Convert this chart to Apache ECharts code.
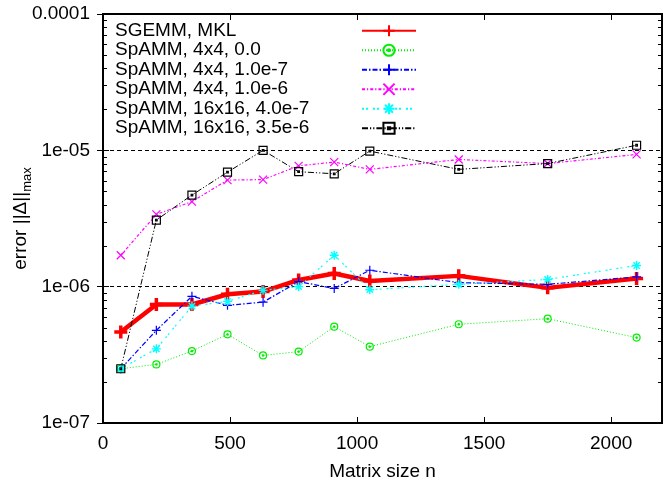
<!DOCTYPE html>
<html>
<head>
<meta charset="utf-8">
<script src="https://cdn.jsdelivr.net/npm/echarts@6/dist/echarts.min.js"></script>
<style>html,body{margin:0;padding:0;background:#fff}#c{width:672px;height:483px}</style>
</head>
<body>
<div id="c"></div>
<script>
var sizes = [70, 210, 350, 490, 630, 770, 910, 1050, 1400, 1750, 2100];
var sgemmMKL   = [4.65e-7, 7.4e-7, 7.4e-7, 8.8e-7, 9.2e-7, 1.12e-6, 1.25e-6, 1.1e-6, 1.2e-6, 0.98e-6, 1.15e-6];
var spamm4_0   = [2.5e-7, 2.69e-7, 3.37e-7, 4.47e-7, 3.13e-7, 3.34e-7, 5.09e-7, 3.63e-7, 5.3e-7, 5.82e-7, 4.23e-7];
var spamm4_1e7 = [2.5e-7, 4.78e-7, 8.5e-7, 7.3e-7, 7.7e-7, 1.09e-6, 0.97e-6, 1.32e-6, 1.07e-6, 1.04e-6, 1.18e-6];
var spamm4_1e6 = [1.7e-6, 3.39e-6, 4.2e-6, 6.05e-6, 6.1e-6, 7.7e-6, 8.2e-6, 7.25e-6, 8.57e-6, 8.0e-6, 9.33e-6];
var spamm16_4e7 = [2.5e-7, 3.5e-7, 7.2e-7, 7.8e-7, 9.4e-7, 1.0e-6, 1.7e-6, 0.95e-6, 1.04e-6, 1.13e-6, 1.43e-6];
var spamm16_35e6 = [2.5e-7, 3.08e-6, 4.7e-6, 6.92e-6, 1.0e-5, 6.97e-6, 6.73e-6, 9.87e-6, 7.25e-6, 8.0e-6, 1.09e-5];
var seriesNames = ['SGEMM, MKL', 'SpAMM, 4x4, 0.0', 'SpAMM, 4x4, 1.0e-7', 'SpAMM, 4x4, 1.0e-6', 'SpAMM, 16x16, 4.0e-7', 'SpAMM, 16x16, 3.5e-6'];
var yTickValues = [1e-7, 1e-6, 1e-5, 1e-4];
var yTickLabels = ['1e-07', '1e-06', '1e-05', '0.0001'];
var xTickLabels = ['0', '500', '1000', '1500', '2000'];

function pairs(vals) { return sizes.map(function (x, i) { return [x, vals[i]]; }); }

var FONT = '"Liberation Sans", Arial, sans-serif';
var SYM = {
  plus: 'path://M0,5L10,5M5,0L5,10',
  cross: 'path://M0,0L10,10M10,0L0,10',
  star: 'path://M0,5L10,5M5,0L5,10M1.5,1.5L8.5,8.5M8.5,1.5L1.5,8.5',
  sqdot: 'path://M0,0L10,0L10,10L0,10ZM4,4L6,4L6,6L4,6Z',
  cdot: 'path://M0,5A5,5,0,1,1,10,5A5,5,0,1,1,0,5ZM4,5A1,1,0,1,1,6,5A1,1,0,1,1,4,5Z'
};

function mk(name, vals, color, width, dash, sym, size, bw) {
  return {
    name: name, type: 'line', data: pairs(vals),
    symbol: sym, symbolSize: size, showSymbol: true,
    lineStyle: { color: color, width: width, type: dash },
    itemStyle: { color: 'none', borderColor: color, borderWidth: bw },
    emphasis: { disabled: true },
    animation: false
  };
}

var series = [
  mk(seriesNames[0], sgemmMKL, '#ff0000', 4.5, 'solid', SYM.plus, 13, 3.5),
  mk(seriesNames[1], spamm4_0, '#00ee00', 1, [1, 2], SYM.cdot, 7, 1.2),
  mk(seriesNames[2], spamm4_1e7, '#0000ff', 1.2, [5, 2, 1.5, 2], SYM.plus, 9, 1.2),
  mk(seriesNames[3], spamm4_1e6, '#ff00ff', 1.2, [3, 2, 1.2, 2], SYM.cross, 8, 1.2),
  mk(seriesNames[4], spamm16_4e7, '#00ffff', 1.2, [2, 2, 2, 5], SYM.star, 9, 1.4),
  mk(seriesNames[5], spamm16_35e6, '#000000', 1, [6, 2, 1.2, 2, 1.2, 2], SYM.sqdot, 8, 1.2)
];

var chart = echarts.init(document.getElementById('c'), null, { renderer: 'canvas' });
var axisTickIn = { show: true, inside: true, length: 6, lineStyle: { color: '#000', width: 1 } };
chart.setOption({
  animation: false,
  backgroundColor: '#fff',
  grid: { left: 103, top: 14, right: 10, bottom: 60, show: true, borderColor: '#000', borderWidth: 2, containLabel: false, outerBoundsMode: 'none' },
  legend: {
    orient: 'vertical', left: 110, top: 16, align: 'right',
    itemWidth: 54, itemHeight: 14, itemGap: 0,
    padding: 5,
    selectedMode: false,
    formatter: function (n) { return '{t|' + n + '}'; },
    textStyle: {
      fontFamily: FONT, fontSize: 19, color: '#000', lineHeight: 19.5,
      rich: { t: { fontFamily: FONT, fontSize: 19, color: '#000', width: 242, align: 'left', lineHeight: 19.5 } }
    },
    data: seriesNames
  },
  xAxis: [{
    type: 'value', min: 0, max: 2200, interval: 500,
    name: 'Matrix size n', nameLocation: 'middle', nameGap: 39, nameMoveOverlap: false,
    nameTextStyle: { fontFamily: FONT, fontSize: 19, color: '#000' },
    axisLine: { show: true, lineStyle: { color: '#000', width: 2 } },
    axisTick: axisTickIn,
    splitLine: { show: false },
    axisLabel: {
      fontFamily: FONT, fontSize: 19, color: '#000', margin: 11, showMaxLabel: false,
      formatter: function (v) { var i = v / 500; return (Math.round(i) === i && xTickLabels[i] !== undefined) ? xTickLabels[i] : ''; }
    }
  }, {
    type: 'value', min: 0, max: 2200, interval: 500, position: 'top',
    axisLine: { show: true, lineStyle: { color: '#000', width: 2 } },
    axisTick: axisTickIn, axisLabel: { show: false }, splitLine: { show: false }
  }],
  yAxis: [{
    type: 'log', logBase: 10, min: 1e-7, max: 1e-4,
    name: '{a|error ||Δ||}{b|max}', nameLocation: 'middle', nameGap: 70, nameMoveOverlap: false,
    nameTextStyle: {
      fontFamily: FONT, fontSize: 19, color: '#000',
      rich: {
        a: { fontFamily: FONT, fontSize: 19, color: '#000', verticalAlign: 'top', lineHeight: 22 },
        b: { fontFamily: FONT, fontSize: 13, color: '#000', verticalAlign: 'top', padding: [10, 0, 0, 0], lineHeight: 22 }
      }
    },
    axisLine: { show: true, lineStyle: { color: '#000', width: 2 } },
    axisTick: axisTickIn,
    splitLine: { show: true, lineStyle: { color: '#000', width: 1, type: [4, 3] } },
    axisLabel: {
      fontFamily: FONT, fontSize: 19, color: '#000', margin: 13,
      formatter: function (v) {
        for (var i = 0; i < yTickValues.length; i++) {
          if (Math.abs(Math.log10(v) - Math.log10(yTickValues[i])) < 1e-6) return yTickLabels[i];
        }
        return '';
      }
    }
  }, {
    type: 'log', logBase: 10, min: 1e-7, max: 1e-4, position: 'right',
    axisLine: { show: true, lineStyle: { color: '#000', width: 2 } },
    axisTick: axisTickIn, axisLabel: { show: false }, splitLine: { show: false }
  }],
  series: series
});

// minor log ticks (2..9 per decade) on both vertical sides
var xl = chart.convertToPixel({ xAxisIndex: 0 }, 0);
var xr = chart.convertToPixel({ xAxisIndex: 0 }, 2200);
var g = [];
for (var d = -7; d < -4; d++) {
  for (var k = 2; k <= 9; k++) {
    var y = Math.round(chart.convertToPixel({ yAxisIndex: 0 }, k * Math.pow(10, d))) + 0.5;
    g.push({ type: 'line', silent: true, shape: { x1: xl, y1: y, x2: xl + 4, y2: y }, style: { stroke: '#000', lineWidth: 1 }, z: 10 });
    g.push({ type: 'line', silent: true, shape: { x1: xr - 4, y1: y, x2: xr, y2: y }, style: { stroke: '#000', lineWidth: 1 }, z: 10 });
  }
}
chart.setOption({ graphic: g });
</script>
</body>
</html>
